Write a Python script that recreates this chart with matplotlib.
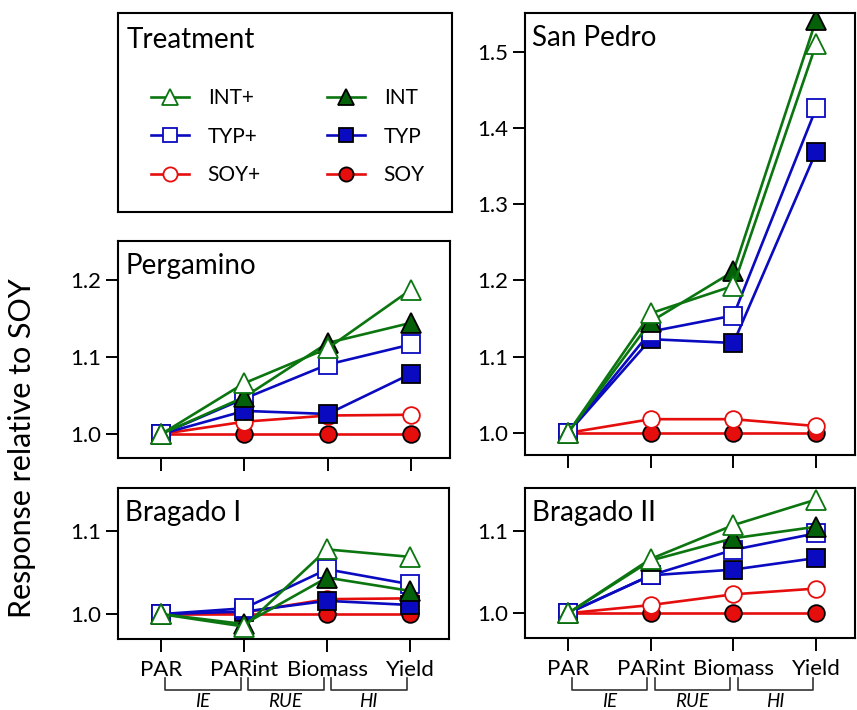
import matplotlib
matplotlib.use('Agg')
import matplotlib.pyplot as plt
from matplotlib.transforms import blended_transform_factory

plt.rcParams['font.family'] = ['Lato', 'DejaVu Sans']

# stages along the x axis
stages = ['PAR', 'PARint', 'Biomass', 'Yield']
# drawing order (later ones on top)
order = ['SOY', 'SOY+', 'TYP', 'TYP+', 'INT', 'INT+']
legend_order = ['INT+', 'TYP+', 'SOY+', 'INT', 'TYP', 'SOY']

# response relative to SOY
pergamino = {
    'INT+': [1.0, 1.066, 1.111, 1.187],
    'INT':  [1.0, 1.048, 1.118, 1.144],
    'TYP+': [1.0, 1.046, 1.090, 1.116],
    'TYP':  [1.0, 1.030, 1.026, 1.078],
    'SOY+': [1.0, 1.016, 1.024, 1.025],
    'SOY':  [1.0, 1.0, 1.0, 1.0],
}
san_pedro = {
    'INT+': [1.0, 1.157, 1.193, 1.510],
    'INT':  [1.0, 1.146, 1.212, 1.542],
    'TYP+': [1.0, 1.133, 1.154, 1.426],
    'TYP':  [1.0, 1.123, 1.118, 1.369],
    'SOY+': [1.0, 1.018, 1.018, 1.009],
    'SOY':  [1.0, 1.0, 1.0, 1.0],
}
bragado1 = {
    'INT+': [1.0, 0.985, 1.078, 1.069],
    'INT':  [1.0, 0.988, 1.044, 1.028],
    'TYP+': [1.0, 1.007, 1.054, 1.036],
    'TYP':  [1.0, 1.003, 1.016, 1.011],
    'SOY+': [1.0, 1.002, 1.018, 1.019],
    'SOY':  [1.0, 1.0, 1.0, 1.0],
}
bragado2 = {
    'INT+': [1.0, 1.066, 1.107, 1.138],
    'INT':  [1.0, 1.064, 1.091, 1.105],
    'TYP+': [1.0, 1.046, 1.077, 1.097],
    'TYP':  [1.0, 1.046, 1.053, 1.067],
    'SOY+': [1.0, 1.010, 1.023, 1.030],
    'SOY':  [1.0, 1.0, 1.0, 1.0],
}

GREEN = '#0b7510'
DKGREEN = '#05600a'
BLUE = '#0a0ac0'
RED = '#e60d0d'

styles = {
    'INT+': dict(color=GREEN, marker='^', ms=14, mfc='white', mec=GREEN),
    'INT':  dict(color=GREEN, marker='^', ms=14, mfc=DKGREEN, mec='black'),
    'TYP+': dict(color=BLUE, marker='s', ms=12.5, mfc='white', mec=BLUE),
    'TYP':  dict(color=BLUE, marker='s', ms=12.5, mfc=BLUE, mec='black'),
    'SOY+': dict(color=RED, marker='o', ms=12, mfc='white', mec=RED),
    'SOY':  dict(color=RED, marker='o', ms=12, mfc=RED, mec='black'),
}

W, H = 857, 710
fig = plt.figure(figsize=(W / 100, H / 100), dpi=100)


def px_axes(l, t, r, b):
    return fig.add_axes([l / W, 1 - b / H, (r - l) / W, (b - t) / H])


def panel(ax, data, title, ylim, yticks, show_x):
    handles = {}
    for name in order:
        ln, = ax.plot(range(len(stages)), data[name], lw=1.9, mew=1.3,
                      **styles[name])
        handles[name] = ln
    ax.set_xlim(-0.52, 3.47)
    ax.set_ylim(*ylim)
    ax.set_yticks(yticks)
    ax.set_yticklabels([f'{v:.1f}' for v in yticks])
    ax.set_xticks(range(len(stages)))
    if show_x:
        ax.set_xticklabels(stages, fontsize=15)
    else:
        ax.set_xticklabels([])
    ax.tick_params(axis='both', length=9, width=1.4, labelsize=16, pad=3)
    ax.tick_params(axis='x', pad=6)
    for s in ax.spines.values():
        s.set_linewidth(1.5)
    ax.annotate(title, xy=(0, 1), xycoords='axes fraction', xytext=(7, -12),
                textcoords='offset pixels', va='top', ha='left', fontsize=20)
    return handles


ax_leg = px_axes(118, 13, 452, 212)
ax_per = px_axes(118, 241, 450, 458)
ax_sp = px_axes(525, 13, 855, 455)
ax_b1 = px_axes(118, 488, 449, 639)
ax_b2 = px_axes(525, 488, 855, 638)

h = panel(ax_per, pergamino, 'Pergamino', (0.969, 1.25), [1.0, 1.1, 1.2], False)
panel(ax_sp, san_pedro, 'San Pedro', (0.971, 1.551),
      [1.0, 1.1, 1.2, 1.3, 1.4, 1.5], False)
panel(ax_b1, bragado1, 'Bragado I', (0.970, 1.152), [1.0, 1.1], True)
panel(ax_b2, bragado2, 'Bragado II', (0.970, 1.152), [1.0, 1.1], True)

# legend box
ax_leg.set_xticks([])
ax_leg.set_yticks([])
for s in ax_leg.spines.values():
    s.set_linewidth(1.5)
ax_leg.text(0.027, 0.93, 'Treatment', transform=ax_leg.transAxes,
            va='top', ha='left', fontsize=20)
ax_leg.legend([h[k] for k in legend_order], legend_order, ncol=2,
              loc='upper left', bbox_to_anchor=(0.075, 0.665), frameon=False,
              fontsize=15, handlelength=1.8, handletextpad=0.9,
              columnspacing=3.2, labelspacing=0.9, borderaxespad=0,
              markerscale=0.85)

# brackets below the bottom panels
groups = ['IE', 'RUE', 'HI']
for ax in (ax_b1, ax_b2):
    tr = blended_transform_factory(ax.transData, fig.transFigure)
    for i, g in enumerate(groups):
        x0, x1 = i + 0.05, i + 0.96
        y0, y1 = 1 - 690 / H, 1 - 678 / H
        ax.plot([x0, x0, x1, x1], [y1, y0, y0, y1], color='#333333',
                lw=1.2, transform=tr, clip_on=False)
        ax.text(i + 0.5, 1 - 707 / H, g, transform=tr, ha='center',
                va='baseline', fontsize=13.5, style='italic')

fig.text(22 / W, 1 - 448 / H, 'Response relative to SOY', rotation=90,
         ha='center', va='center', fontsize=22)

fig.savefig('out.png', dpi=100)
